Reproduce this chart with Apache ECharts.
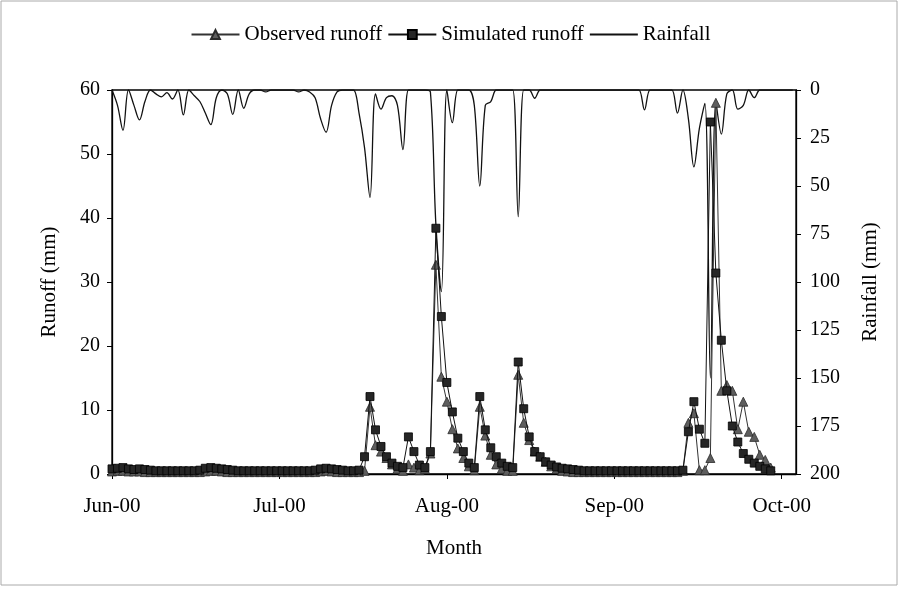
<!DOCTYPE html>
<html><head><meta charset="utf-8">
<script src="https://cdn.jsdelivr.net/npm/echarts@6/dist/echarts.min.js"></script>
<style>html,body{margin:0;padding:0;background:#fff}#c{width:901px;height:589px}</style>
</head><body><div id="c"></div>
<script>
// Day index 0 = 1 Jun 2000
const xTickLabels = ['Jun-00', 'Jul-00', 'Aug-00', 'Sep-00', 'Oct-00'];
const leftTicks = [0, 10, 20, 30, 40, 50, 60];
const rightTicks = [0, 25, 50, 75, 100, 125, 150, 175, 200];

const rainfall = [
  0, 8, 21, 0, 8, 15.6, 6, 0, 2, 3.6,
  1.4, 4.7, 0, 13, 0, 3, 6, 12, 18, 4,
  0, 2, 12.7, 0, 9.5, 2, 0, 0, 1, 0,
  0, 0, 0, 0, 1, 0, 1, 4, 15, 22,
  8, 1, 0, 0, 0, 12, 30, 56, 2, 10,
  4, 3, 8, 31, 0, 0, 0, 0, 1, 70,
  105, 0, 17, 0, 0, 0, 8, 50, 8, 6,
  0, 0, 0, 0, 66, 0, 0, 4.3, 0, 0,
  0, 0, 0, 0, 0, 0, 0, 0, 0, 0,
  0, 0, 0, 0, 0, 0, 0, 10.4, 0, 0,
  0, 0, 0, 12, 0, 15, 40, 20, 7, 150,
  6, 23, 2, 0, 10, 8, 0, 4, 0, 0,
  0, 0, 0, 0, 0
];

const observed = [
  0.4, 0.5, 0.5, 0.4, 0.4, 0.4, 0.3, 0.3, 0.3, 0.3,
  0.3, 0.3, 0.3, 0.3, 0.3, 0.3, 0.3, 0.4, 0.5, 0.5,
  0.4, 0.3, 0.3, 0.3, 0.3, 0.3, 0.3, 0.3, 0.3, 0.3,
  0.3, 0.3, 0.3, 0.3, 0.3, 0.3, 0.3, 0.3, 0.4, 0.5,
  0.4, 0.3, 0.3, 0.3, 0.3, 0.3, 0.5, 10.5, 4.5, 3.5,
  2.5, 1.5, 0.8, 0.5, 1.5, 1.0, 0.6, 0.8, 3.2, 32.7,
  15.2, 11.3, 7, 4, 2.5, 1.2, 0.6, 10.5, 6, 3,
  1.5, 0.8, 0.5, 0.5, 15.5, 8, 5.3, 3.5, 2.7, 1.9,
  1.2, 0.8, 0.5, 0.4, 0.3, 0.3, 0.3, 0.3, 0.3, 0.3,
  0.3, 0.3, 0.3, 0.3, 0.3, 0.3, 0.3, 0.3, 0.3, 0.3,
  0.3, 0.3, 0.3, 0.3, 0.5, 8, 9.5, 0.6, 0.6, 2.5,
  58, 13, 13.9, 13, 7, 11.3, 6.6, 5.8, 3, 2.2,
  1
];

const simulated = [
  0.8, 0.9, 1.0, 0.8, 0.7, 0.8, 0.7, 0.6, 0.5, 0.5,
  0.5, 0.5, 0.5, 0.5, 0.5, 0.5, 0.6, 0.9, 1.0, 0.9,
  0.8, 0.7, 0.6, 0.5, 0.5, 0.5, 0.5, 0.5, 0.5, 0.5,
  0.5, 0.5, 0.5, 0.5, 0.5, 0.5, 0.5, 0.6, 0.8, 0.9,
  0.8, 0.7, 0.6, 0.5, 0.5, 0.6, 2.7, 12.1, 6.9, 4.3,
  2.7, 1.7, 1.2, 1.0, 5.8, 3.5, 1.4, 1.0, 3.5, 38.4,
  24.6, 14.3, 9.7, 5.6, 3.5, 1.7, 1.0, 12.1, 6.9, 4.1,
  2.7, 1.7, 1.2, 1.0, 17.5, 10.2, 5.8, 3.5, 2.7, 1.9,
  1.4, 1.1, 0.9, 0.8, 0.7, 0.6, 0.5, 0.5, 0.5, 0.5,
  0.5, 0.5, 0.5, 0.5, 0.5, 0.5, 0.5, 0.5, 0.5, 0.5,
  0.5, 0.5, 0.5, 0.5, 0.6, 6.6, 11.3, 7, 4.8, 55,
  31.4, 20.9, 13, 7.5, 5, 3.2, 2.3, 1.7, 1.2, 0.8,
  0.5
];

const MONTH_STEP = 30.5;
const toPairs = arr => arr.map((v, i) => [i, v]);
const font = 'Liberation Serif';
const wordSize = 21;
const numSize = 20;

const chart = echarts.init(document.getElementById('c'), null, {renderer: 'canvas'});
chart.setOption({
  animation: false,
  backgroundColor: '#fff',
  textStyle: {fontFamily: font, color: '#000'},
  graphic: [{
    type: 'rect', shape: {x: 1, y: 1, width: 896, height: 584},
    style: {fill: 'none', stroke: '#aaa', lineWidth: 1}, silent: true, z: -1
  }],
  legend: {
    top: 19, left: 'center', itemWidth: 48, itemHeight: 11, itemGap: 5,
    textStyle: {fontFamily: font, fontSize: wordSize, color: '#000'},
    data: ['Observed runoff', 'Simulated runoff', {name: 'Rainfall', itemStyle: {opacity: 0}}]
  },
  grid: {left: 112, right: 105, top: 90, bottom: 115, show: true, borderColor: '#000', borderWidth: 1.3, containLabel: false},
  xAxis: {
    type: 'value', min: 0, max: 124.6, interval: MONTH_STEP,
    name: 'Month', nameLocation: 'middle', nameGap: 64,
    nameTextStyle: {fontFamily: font, fontSize: wordSize, color: '#000'},
    axisLine: {lineStyle: {color: '#000', width: 1.3}},
    axisTick: {length: 5, lineStyle: {color: '#000'}},
    splitLine: {show: false},
    axisLabel: {
      fontFamily: font, fontSize: wordSize, color: '#000', margin: 22, showMaxLabel: false,
      formatter: v => {
        const k = v / MONTH_STEP;
        return Math.abs(k - Math.round(k)) < 1e-6 ? (xTickLabels[Math.round(k)] || '') : '';
      }
    }
  },
  yAxis: [{
    type: 'value', min: leftTicks[0], max: leftTicks[leftTicks.length - 1], interval: 10,
    name: 'Runoff (mm)', nameLocation: 'middle', nameGap: 52,
    nameTextStyle: {fontFamily: font, fontSize: wordSize, color: '#000'},
    axisLine: {show: true, lineStyle: {color: '#000', width: 1.3}},
    axisTick: {show: true, length: 5, lineStyle: {color: '#000'}},
    splitLine: {show: false},
    axisLabel: {fontFamily: font, fontSize: numSize, color: '#000', margin: 12}
  }, {
    type: 'value', min: rightTicks[0], max: rightTicks[rightTicks.length - 1], interval: 25, inverse: true,
    position: 'right',
    name: 'Rainfall (mm)', nameLocation: 'middle', nameGap: 64, nameRotate: 90,
    nameTextStyle: {fontFamily: font, fontSize: wordSize, color: '#000'},
    axisLine: {show: true, lineStyle: {color: '#000', width: 1.3}},
    axisTick: {show: true, length: 5, lineStyle: {color: '#000'}},
    splitLine: {show: false},
    axisLabel: {fontFamily: font, fontSize: numSize, color: '#000', margin: 14}
  }],
  series: [{
    name: 'Rainfall', type: 'line', yAxisIndex: 1, data: toPairs(rainfall),
    symbol: 'none', smooth: 0.35, lineStyle: {color: '#111', width: 1.3}, itemStyle: {color: '#111'}, z: 2
  }, {
    name: 'Observed runoff', type: 'line', yAxisIndex: 0, data: toPairs(observed),
    symbol: 'triangle', symbolSize: 9, lineStyle: {color: '#333', width: 1},
    itemStyle: {color: '#5e5e5e', borderColor: '#2a2a2a', borderWidth: 0.8}, z: 3
  }, {
    name: 'Simulated runoff', type: 'line', yAxisIndex: 0, data: toPairs(simulated),
    symbol: 'rect', symbolSize: 8, lineStyle: {color: '#111', width: 1},
    itemStyle: {color: '#262626', borderColor: '#000', borderWidth: 0.8}, z: 4
  }]
});
</script>
</body></html>
